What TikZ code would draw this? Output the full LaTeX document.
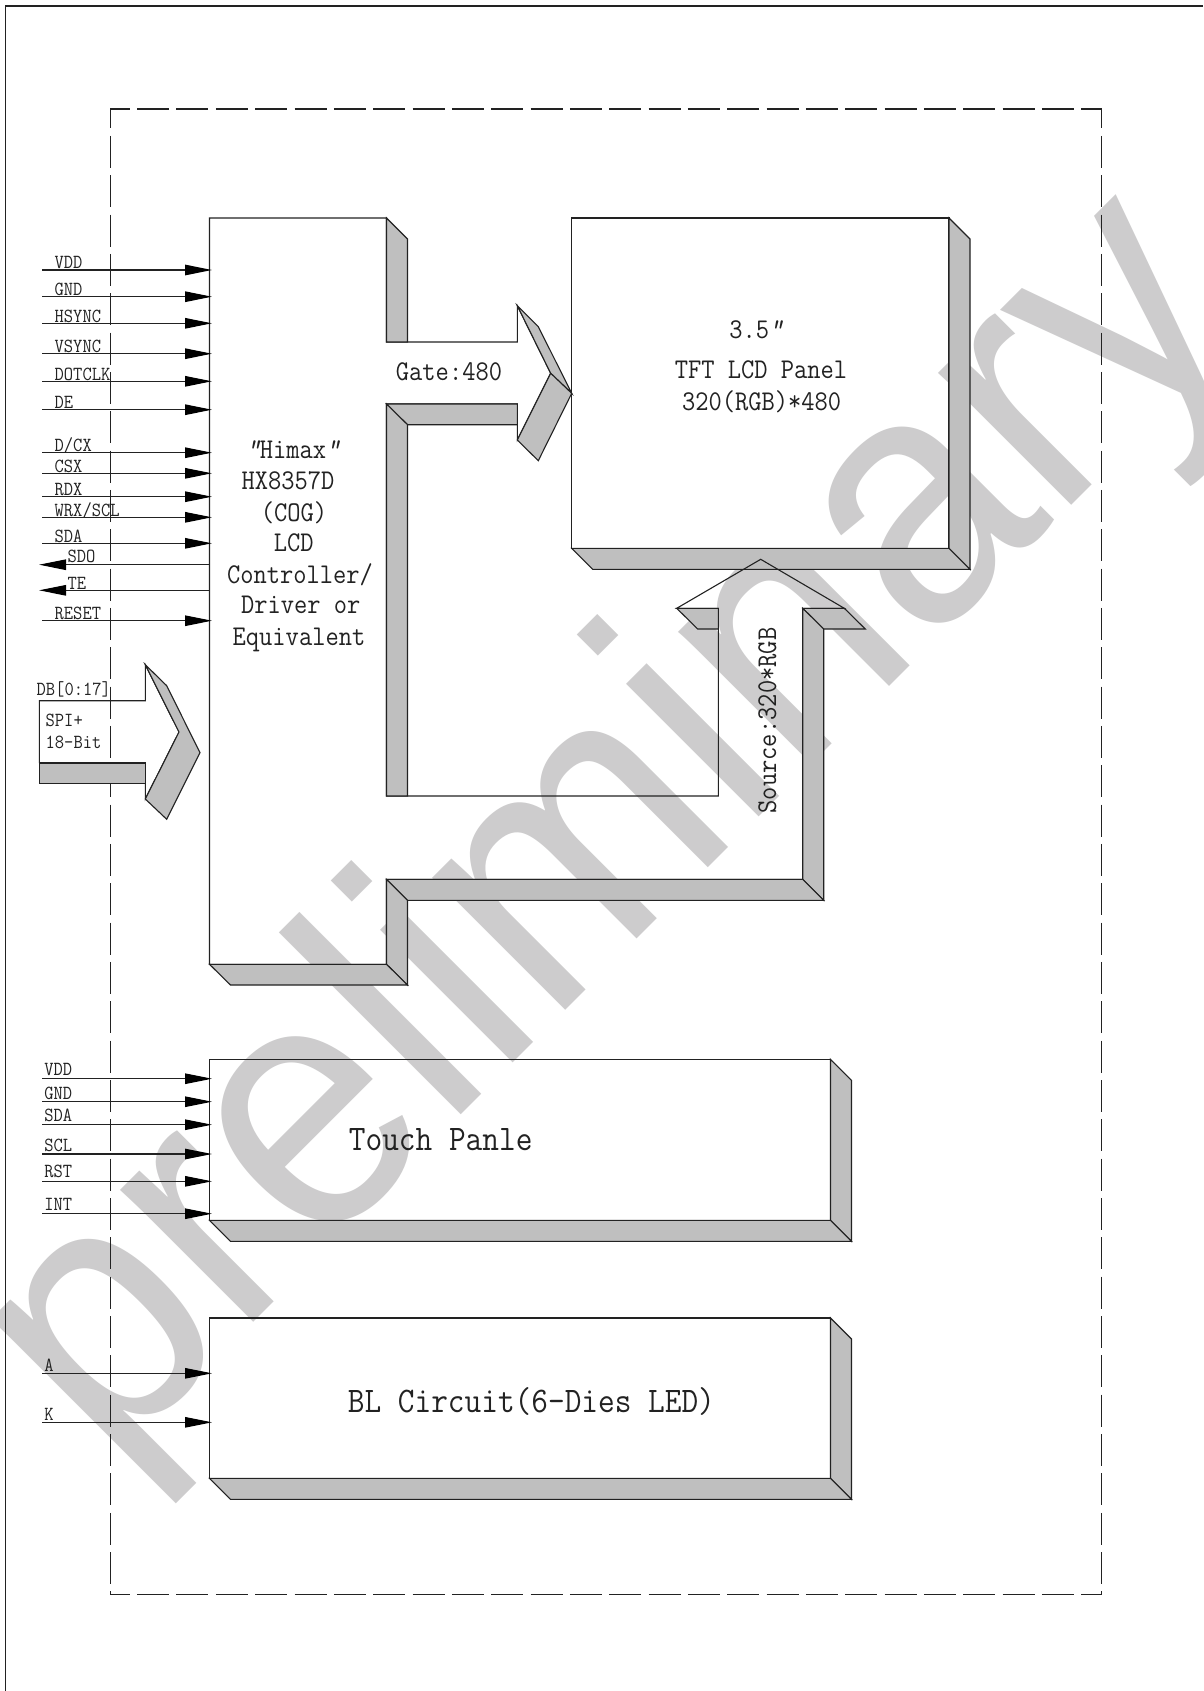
\documentclass[tikz,border=0pt]{standalone}
\usepackage{fontspec}
\setmonofont[FakeStretch=0.9]{Latin Modern Mono}
\newfontfamily\markfont[FakeStretch=0.93]{Liberation Sans}
\usetikzlibrary{arrows.meta}
\definecolor{markgray}{HTML}{CDCCCD}
\definecolor{facegray}{HTML}{BFBFBF}
\definecolor{linegray}{HTML}{222222}
\newcommand{\drawface}{\draw[outline, fill=facegray]}
\newcommand{\smallquote}{{\itshape"}}
\tikzset{
    outline/.style={draw=linegray, line width=1.1pt, line join=miter},
    modline/.style={draw=linegray, line width=1.1pt, dash pattern=on 32pt off 7.34pt, dash phase=12.5pt},
    signal/.style={draw=linegray, line width=1.1pt, -{Triangle[length=27pt, width=10.5pt, color=black]}},
    siglabel/.style={anchor=base west, inner sep=0pt, text=linegray, font=\ttfamily\fontsize{20}{21}\selectfont},
    midlabel/.style={anchor=base, inner sep=0pt, text=linegray, font=\ttfamily\fontsize{28.6}{30}\selectfont},
    biglabel/.style={anchor=base, inner sep=0pt, text=linegray, font=\ttfamily\fontsize{36}{38}\selectfont},
}
\begin{document}
\begin{tikzpicture}[x=1pt, y=-1pt]
    \useasboundingbox (0,0) rectangle (1203,1691);
    \fill[white] (0,0) rectangle (1203,1691);

    % Draw watermark
    \node[anchor=base west, inner sep=0pt, rotate=45, text=markgray,
        font=\markfont\fontsize{355}{355}\selectfont] (mark) at (108,1468) {preliminary};

    % Draw frame
    \coordinate (frameb) at (5.5,1691);
    \coordinate (framea) at (5.5,6);
    \coordinate (framec) at (1203,6);
    \draw[outline] (frameb) -- (framea) -- (framec);
    \coordinate (moda) at (110.3,109);
    \coordinate (modb) at (1101.5,109);
    \coordinate (modc) at (1101.5,1594.6);
    \coordinate (modd) at (110.3,1594.6);
    \draw[modline] (moda) -- (modb);
    \draw[modline] (moda) -- (modd);
    \draw[modline] (modb) -- (modc);
    \draw[modline] (modd) -- (modc);

    % Draw panel
    \draw[outline] (571.7,218) rectangle (949,548.3);
    \drawface (949,218) -- (970,239) -- (970,569.3) -- (949,548.3) -- cycle;
    \drawface (571.7,548.3) -- (949,548.3) -- (970,569.3) -- (592.7,569.3) -- cycle;

    % Draw driver outline
    \draw[outline] (209.5,218) -- (386.5,218) -- (386.5,342) -- (517.3,342) -- (517.3,305.7)
        -- (550.7,373.3) -- (517.3,440) -- (517.3,404) -- (386.5,404) -- (386.5,796)
        -- (718.3,796) -- (718.3,608.3) -- (676.7,608.3) -- (760.7,559.3) -- (844.3,608.3)
        -- (802.7,608.3) -- (802.7,879.3) -- (386.5,879.3) -- (386.5,964.3) -- (209.5,964.3) -- cycle;

    % Draw driver faces
    \drawface (386.5,218) -- (407.5,239) -- (407.5,342) -- (386.5,342) -- cycle;
    \drawface (517.3,305.7) -- (538.3,326.7) -- (571.7,393.3) -- (550.7,373.3) -- cycle;
    \drawface (550.7,373.3) -- (571.7,393.3) -- (538.3,460.7) -- (517.3,440) -- cycle;
    \drawface (386.5,404) -- (517.3,404) -- (517.3,424.7) -- (407.5,424.7) -- cycle;
    \drawface (386.5,404) -- (407.5,424.7) -- (407.5,796) -- (386.5,796) -- cycle;
    \drawface (676.7,608.3) -- (718.3,608.3) -- (718.3,629) -- (697.7,629) -- cycle;
    \drawface (802.7,608.3) -- (844.3,608.3) -- (865.3,629) -- (823.7,629) -- cycle;
    \drawface (802.7,608.3) -- (823.7,629) -- (823.7,900.3) -- (802.7,879.3) -- cycle;
    \drawface (386.5,879.3) -- (802.7,879.3) -- (823.7,900.3) -- (407.5,900.3) -- cycle;
    \drawface (386.5,879.3) -- (407.5,900.3) -- (407.5,985) -- (386.5,964.3) -- cycle;
    \drawface (209.5,964.3) -- (386.5,964.3) -- (407.5,985) -- (230.5,985) -- cycle;

    % Draw touch and backlight blocks
    \foreach \boxtop/\boxbot in {1059.3/1220.3, 1318/1478.3} {
        \draw[outline] (209.5,\boxtop) rectangle (830.5,\boxbot);
        \drawface (830.5,\boxtop) -- (851.5,\boxtop+21) -- (851.5,\boxbot+21) -- (830.5,\boxbot) -- cycle;
        \drawface (209.5,\boxbot) -- (830.5,\boxbot) -- (851.5,\boxbot+21) -- (230.5,\boxbot+21) -- cycle;
    }

    % Draw bus arrow
    \draw[outline] (39.3,763) -- (39.3,700.7) -- (145.3,700.7) -- (145.3,664.7) -- (179,732) -- (145.3,799) -- (145.3,763);
    \drawface (39.3,763) -- (145.3,763) -- (145.3,783.7) -- (39.3,783.7) -- cycle;
    \drawface (145.3,664.7) -- (166.7,685.7) -- (200,752.7) -- (166.7,819.3) -- (145.3,799) -- (179,732) -- cycle;

    % Draw signals
    \foreach \liney/\texty/\signame/\sigid in {270/268/VDD/a, 296.7/295/GND/b, 323.3/322/HSYNC/c,
        353.7/352/VSYNC/d, 381.3/380/DOTCLK/e, 409.7/408/DE/f, 452.7/451.7/D\slash CX/g, 473.3/472/CSX/h,
        496.7/495/RDX/i, 517.3/516.7/WRX\slash SCL/j, 543.3/542/SDA/k, 620.7/619/RESET/l} {
        \coordinate (in\sigid) at (42,\liney);
        \coordinate (to\sigid) at (212,\liney);
        \draw[signal] (in\sigid) -- (to\sigid);
        \node[siglabel] (lab\sigid) at (54.5,\texty) {\signame};
    }
    \foreach \liney/\texty/\signame/\sigid in {564.7/562.7/SDO/m, 590.3/589/TE/n} {
        \coordinate (in\sigid) at (209.5,\liney);
        \coordinate (to\sigid) at (39,\liney);
        \draw[signal] (in\sigid) -- (to\sigid);
        \node[siglabel] (lab\sigid) at (67.5,\texty) {\signame};
    }
    \foreach \liney/\texty/\signame/\sigid in {1078.7/1075/VDD/o, 1101.7/1099/GND/p, 1124.7/1121.7/SDA/q,
        1154/1151/SCL/r, 1181.3/1177.7/RST/s, 1213.7/1210.7/INT/t, 1373.3/1371/A/u, 1422.3/1420/K/v} {
        \coordinate (in\sigid) at (42,\liney);
        \coordinate (to\sigid) at (212,\liney);
        \draw[signal] (in\sigid) -- (to\sigid);
        \node[siglabel] (lab\sigid) at (44.2,\texty) {\signame};
    }

    % Draw texts
    \node[siglabel] (dbus) at (36.5,695.3) {DB[0:17]};
    \node[siglabel] (spi) at (45.5,726.7) {SPI+};
    \node[siglabel] (bits) at (45.5,748.7) {18-Bit};

    \node[midlabel] (himax) at (293,458.3) {\smallquote Himax\smallquote};
    \node[midlabel] (part) at (288,489.3) {HX8357D};
    \node[midlabel] (cog) at (294,521.5) {(COG)};
    \node[midlabel] (lcd) at (293.7,551.7) {LCD};
    \node[midlabel] (ctrl) at (300,583) {Controller/};
    \node[midlabel] (drv) at (300.8,613.3) {Driver or};
    \node[midlabel] (equ) at (299,645) {Equivalent};
    \node[midlabel] (gate) at (449,380) {Gate:480};
    \node[midlabel] (size) at (756,338.8) {3.5\smallquote};
    \node[midlabel] (panel) at (761,378.7) {TFT LCD Panel};
    \node[midlabel] (res) at (761.7,410) {320(RGB)*480};
    \node[midlabel, rotate=90] (source) at (776,720.5) {Source:320*RGB};
    \node[biglabel] (touch) at (440.7,1150) {Touch Panle};
    \node[biglabel] (blc) at (531.4,1412.3) {BL Circuit(6-Dies LED)};
\end{tikzpicture}
\end{document}
